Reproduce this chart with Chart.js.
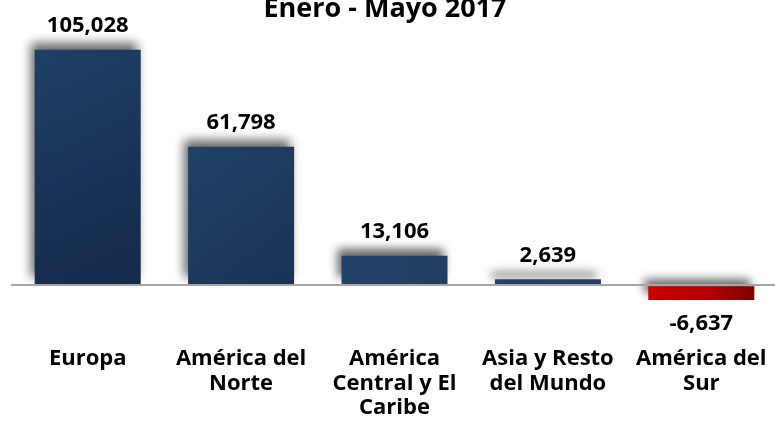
<!DOCTYPE html>
<html>
<head>
<meta charset="utf-8">
<script src="https://cdn.jsdelivr.net/npm/chart.js@4.4.0/dist/chart.umd.min.js"></script>
<style>
  html, body { margin: 0; padding: 0; background: #ffffff; overflow: hidden; width: 775px; height: 421px; }
  #wrap { position: absolute; left: 0; top: 0; width: 778px; height: 427px; }
</style>
</head>
<body>
<div id="wrap"><canvas id="c"></canvas></div>
<script>
const chartTitle = 'Enero - Mayo 2017';
const categories = [
  ['Europa'],
  ['América del', 'Norte'],
  ['América', 'Central y El', 'Caribe'],
  ['Asia y Resto', 'del Mundo'],
  ['América del', 'Sur']
];
const values = [105028, 61798, 13106, 2639, -6637];

const FONT = '"Open Sans", Lato, sans-serif';

function mix(a, b, t) {
  const pa = [1,3,5].map(i => parseInt(a.substr(i,2),16));
  const pb = [1,3,5].map(i => parseInt(b.substr(i,2),16));
  return 'rgb(' + pa.map((v,k) => Math.round(v + (pb[k]-v)*t)).join(',') + ')';
}

function barFill(ctx) {
  const chart = ctx.chart;
  if (!chart.chartArea || !chart.scales.x || !chart.scales.y) return '#1F3A60';
  const i = ctx.dataIndex;
  const v = values[i];
  const xs = chart.scales.x, ys = chart.scales.y;
  const cx = xs.getPixelForValue(i);
  const w = xs.width / categories.length * 0.691;
  const y0 = ys.getPixelForValue(0), y1 = ys.getPixelForValue(v);
  const top = Math.min(y0, y1), bot = Math.max(y0, y1);
  const g = chart.ctx.createLinearGradient(cx - w/2, top, cx + w/2, bot);
  if (v < 0) {
    g.addColorStop(0, '#C80000');
    g.addColorStop(0.55, '#B80000');
    g.addColorStop(1, '#7E0000');
  } else {
    const maxV = Math.max(...values);
    const t = v / maxV;
    g.addColorStop(0, mix('#25436A', '#1F3F66', t));
    g.addColorStop(1, mix('#233F63', '#14294A', t));
  }
  return g;
}

const shadowPlugin = {
  id: 'barShadow',
  beforeDatasetsDraw(chart) {
    const c = chart.ctx;
    c.save();
    c.shadowColor = 'rgba(0,0,0,0.6)';
    c.shadowBlur = 10;
    c.shadowOffsetX = -4;
    c.shadowOffsetY = -7;
  },
  afterDatasetsDraw(chart) {
    chart.ctx.restore();
  }
};

const labelPlugin = {
  id: 'valueLabels',
  afterDraw(chart) {
    const c = chart.ctx;
    c.save();
    c.fillStyle = '#000000';
    c.textAlign = 'center';
    c.textBaseline = 'alphabetic';
    c.font = 'bold 22px ' + FONT;
    const meta = chart.getDatasetMeta(0);
    meta.data.forEach((el, i) => {
      const v = values[i];
      const txt = v.toLocaleString('en-US');
      if (v >= 0) c.fillText(txt, el.x, el.y - 17.5);
      else c.fillText(txt, el.x, el.y + 30);
    });
    c.font = 'bold 27px ' + FONT;
    c.fillText(chartTitle, 385, 17.3);
    c.restore();
  }
};

new Chart(document.getElementById('c'), {
  type: 'bar',
  data: {
    labels: categories,
    datasets: [{
      data: values,
      backgroundColor: barFill,
      borderWidth: 0,
      barPercentage: 0.691,
      categoryPercentage: 1.0
    }]
  },
  options: {
    responsive: true,
    maintainAspectRatio: false,
    animation: false,
    layout: { padding: { left: 11, right: 0, top: 24, bottom: 0 } },
    plugins: {
      legend: { display: false },
      tooltip: { enabled: false },
      title: { display: false }
    },
    scales: {
      x: {
        grid: { display: false, drawTicks: false },
        border: { display: false },
        ticks: {
          color: '#000000',
          padding: 7,
          maxRotation: 0,
          autoSkip: false,
          font: { family: FONT, size: 22, weight: 'bold', lineHeight: 1.1136 }
        }
      },
      y: {
        min: -24208,
        max: 116516,
        afterBuildTicks(scale) { scale.ticks = [{ value: 0 }]; },
        grid: {
          z: 1,
          drawTicks: false,
          lineWidth: 2,
          color: (ctx) => (ctx.tick && ctx.tick.value === 0) ? '#A6A6A6' : 'rgba(0,0,0,0)'
        },
        border: { display: false },
        ticks: { display: false }
      }
    }
  },
  plugins: [shadowPlugin, labelPlugin]
});
</script>
</body>
</html>
